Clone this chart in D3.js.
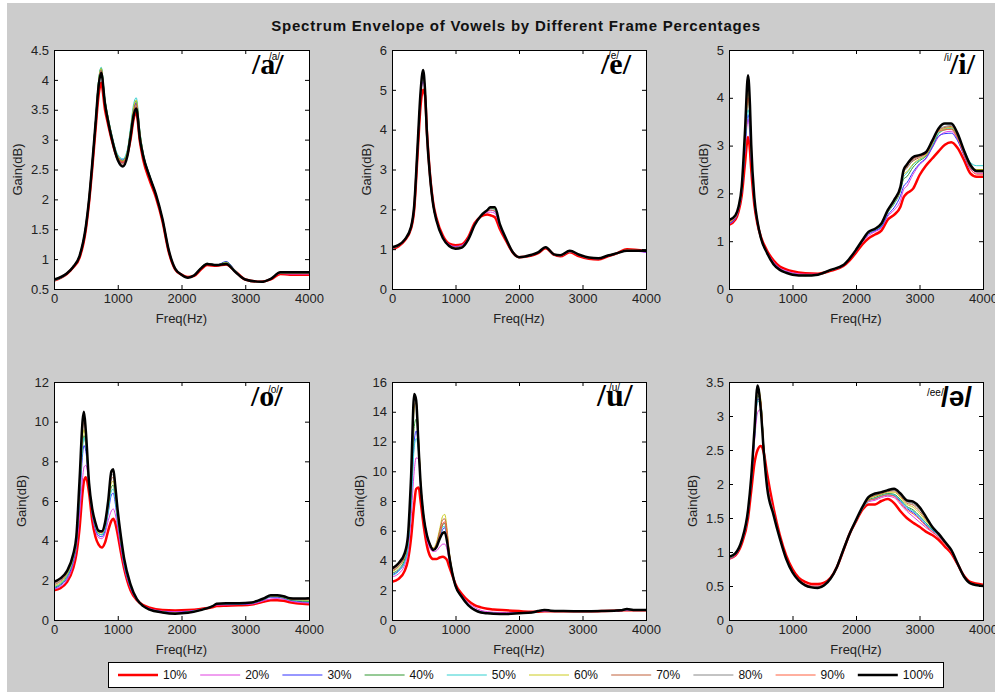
<!DOCTYPE html>
<html>
<head>
<meta charset="utf-8">
<script src="https://cdn.jsdelivr.net/npm/d3@7"></script>
<style>
  body { margin: 0; background: #fff; }
  text { font-family: "Liberation Sans", Arial, Helvetica, sans-serif; }
</style>
</head>
<body>
<div id="chart"></div>
<script>
// legend / series
const pctLabels = ["10%", "20%", "30%", "40%", "50%", "60%", "70%", "80%", "90%", "100%"];
const pctColors = ["#ff0000", "#e040e0", "#3030ff", "#2e962e", "#30d0d0", "#cccc20", "#c0603a", "#888888", "#ff6040", "#000000"];
const xTicks = [0, 1000, 2000, 3000, 4000];

// /a/
const freqA = [0,200,300,400,500,550,600,650,700,740,800,850,900,1000,1080,1150,1200,1250,1290,1350,1400,1500,1600,1700,1800,1900,2000,2100,2200,2300,2400,2550,2700,2850,3000,3250,3400,3550,3700,4000];
const a10 = [0.64,0.75,0.86,1.02,1.5,1.95,2.52,3.15,3.75,3.95,3.5,3.25,3.02,2.68,2.62,2.75,3.0,3.35,3.45,2.95,2.66,2.32,2.03,1.64,1.12,0.83,0.74,0.7,0.72,0.82,0.9,0.89,0.91,0.79,0.66,0.62,0.66,0.75,0.74,0.74];
const a20 = [0.65,0.75,0.87,1.04,1.54,2.0,2.6,3.25,3.95,4.15,3.62,3.32,3.07,2.7,2.62,2.76,3.1,3.48,3.6,3.05,2.74,2.38,2.07,1.67,1.14,0.84,0.74,0.69,0.73,0.84,0.92,0.9,0.95,0.8,0.66,0.62,0.67,0.76,0.75,0.75];
const a30 = [0.66,0.76,0.88,1.06,1.57,2.03,2.63,3.3,3.98,4.18,3.65,3.35,3.1,2.73,2.66,2.8,3.15,3.52,3.62,3.08,2.76,2.4,2.08,1.68,1.15,0.84,0.74,0.69,0.73,0.85,0.93,0.9,0.96,0.8,0.66,0.62,0.67,0.77,0.77,0.77];
const a40 = [0.65,0.76,0.88,1.06,1.57,2.03,2.64,3.3,4.0,4.2,3.66,3.36,3.1,2.72,2.65,2.8,3.16,3.55,3.65,3.1,2.77,2.4,2.08,1.68,1.15,0.84,0.74,0.69,0.73,0.85,0.93,0.9,0.95,0.8,0.66,0.62,0.67,0.77,0.77,0.77];
const a50 = [0.64,0.75,0.87,1.06,1.58,2.04,2.65,3.32,4.0,4.21,3.67,3.37,3.12,2.75,2.68,2.83,3.2,3.6,3.7,3.12,2.78,2.41,2.08,1.68,1.15,0.84,0.74,0.69,0.73,0.85,0.93,0.9,0.94,0.8,0.66,0.62,0.67,0.77,0.77,0.77];
const a60 = [0.65,0.76,0.88,1.06,1.57,2.03,2.64,3.3,3.99,4.19,3.66,3.36,3.1,2.72,2.64,2.8,3.15,3.55,3.66,3.1,2.76,2.4,2.08,1.68,1.15,0.84,0.74,0.69,0.73,0.85,0.93,0.9,0.94,0.79,0.66,0.62,0.67,0.77,0.77,0.77];
const a70 = [0.66,0.76,0.87,1.05,1.56,2.02,2.62,3.28,3.95,4.16,3.63,3.33,3.08,2.7,2.61,2.77,3.1,3.48,3.6,3.06,2.75,2.39,2.08,1.68,1.15,0.84,0.74,0.69,0.73,0.84,0.92,0.9,0.93,0.79,0.66,0.62,0.67,0.77,0.77,0.77];
const a80 = [0.66,0.76,0.87,1.05,1.56,2.01,2.61,3.27,3.93,4.15,3.62,3.32,3.07,2.68,2.59,2.75,3.08,3.46,3.57,3.04,2.74,2.39,2.08,1.68,1.15,0.84,0.74,0.69,0.73,0.84,0.92,0.9,0.93,0.79,0.66,0.62,0.67,0.78,0.78,0.78];
const a90 = [0.66,0.76,0.87,1.05,1.55,2.0,2.6,3.26,3.92,4.14,3.61,3.31,3.06,2.67,2.57,2.74,3.07,3.44,3.55,3.02,2.73,2.38,2.08,1.68,1.15,0.84,0.74,0.69,0.73,0.84,0.92,0.9,0.92,0.78,0.66,0.62,0.67,0.78,0.78,0.78];
const a100 = [0.66,0.76,0.87,1.05,1.55,2.0,2.6,3.25,3.9,4.12,3.6,3.3,3.05,2.66,2.55,2.72,3.05,3.41,3.52,3.0,2.72,2.38,2.08,1.68,1.15,0.84,0.74,0.69,0.73,0.84,0.92,0.9,0.92,0.78,0.66,0.62,0.67,0.78,0.78,0.78];
const ticksA = [0.5, 1, 1.5, 2, 2.5, 3, 3.5, 4, 4.5];

// /e/
const freqE = [0,100,200,300,350,400,450,490,520,550,600,650,700,800,900,1000,1100,1200,1300,1400,1500,1550,1620,1700,1800,1900,2000,2200,2300,2420,2550,2650,2800,2950,3100,3250,3400,3550,3700,4000];
const e10 = [1.0,1.07,1.22,1.52,2.0,3.3,4.6,5.0,4.85,3.95,2.85,2.15,1.78,1.34,1.14,1.1,1.12,1.3,1.65,1.82,1.87,1.85,1.8,1.5,1.2,0.92,0.8,0.84,0.9,1.02,0.86,0.82,0.92,0.82,0.76,0.74,0.82,0.9,1.0,0.95];
const e20 = [1.02,1.08,1.23,1.54,2.05,3.4,4.8,5.2,4.95,3.92,2.82,2.12,1.76,1.32,1.12,1.07,1.1,1.28,1.63,1.84,1.92,1.93,1.9,1.55,1.22,0.92,0.8,0.85,0.91,1.03,0.86,0.83,0.93,0.84,0.77,0.76,0.83,0.9,0.96,0.92];
const e30 = [1.03,1.09,1.24,1.55,2.07,3.45,4.85,5.3,5.0,3.92,2.8,2.1,1.75,1.3,1.1,1.05,1.08,1.27,1.62,1.85,1.95,1.98,1.95,1.58,1.23,0.93,0.8,0.85,0.91,1.04,0.87,0.84,0.94,0.85,0.78,0.76,0.83,0.9,0.96,0.93];
const e40 = [1.03,1.09,1.24,1.55,2.08,3.48,4.9,5.4,5.0,3.91,2.8,2.09,1.74,1.3,1.1,1.04,1.07,1.26,1.61,1.85,1.97,2.02,2.0,1.6,1.24,0.93,0.8,0.85,0.92,1.04,0.87,0.84,0.95,0.85,0.78,0.77,0.84,0.9,0.96,0.94];
const e50 = [1.02,1.08,1.23,1.55,2.08,3.48,4.9,5.42,5.0,3.9,2.8,2.08,1.74,1.3,1.09,1.03,1.06,1.25,1.6,1.84,1.97,2.03,2.01,1.6,1.24,0.93,0.79,0.85,0.92,1.04,0.87,0.84,0.95,0.86,0.78,0.77,0.84,0.9,0.96,0.94];
const e60 = [1.03,1.09,1.24,1.56,2.09,3.5,4.92,5.45,5.0,3.9,2.8,2.08,1.73,1.29,1.09,1.02,1.05,1.25,1.6,1.84,1.98,2.04,2.03,1.61,1.25,0.93,0.8,0.86,0.92,1.05,0.87,0.85,0.96,0.86,0.79,0.77,0.84,0.9,0.96,0.95];
const e70 = [1.04,1.1,1.24,1.56,2.09,3.5,4.93,5.45,5.0,3.9,2.8,2.07,1.73,1.29,1.08,1.02,1.05,1.24,1.6,1.84,1.98,2.04,2.04,1.61,1.25,0.93,0.8,0.86,0.92,1.05,0.87,0.85,0.96,0.86,0.79,0.77,0.84,0.9,0.97,0.95];
const e80 = [1.04,1.1,1.24,1.56,2.1,3.5,4.94,5.48,5.0,3.9,2.8,2.06,1.72,1.28,1.08,1.01,1.04,1.24,1.6,1.84,1.98,2.05,2.05,1.62,1.25,0.93,0.8,0.86,0.92,1.05,0.87,0.85,0.96,0.86,0.79,0.77,0.84,0.9,0.97,0.96];
const e90 = [1.03,1.09,1.23,1.55,2.06,3.45,4.9,5.4,5.0,3.92,2.82,2.1,1.75,1.3,1.1,1.04,1.07,1.26,1.62,1.84,1.95,1.98,1.96,1.58,1.23,0.92,0.8,0.85,0.91,1.03,0.86,0.83,0.93,0.84,0.77,0.76,0.83,0.9,0.99,0.95];
const e100 = [1.05,1.1,1.24,1.56,2.1,3.5,4.95,5.5,5.0,3.9,2.8,2.1,1.72,1.28,1.08,1.01,1.04,1.24,1.6,1.84,1.98,2.05,2.05,1.62,1.25,0.93,0.8,0.86,0.92,1.05,0.87,0.85,0.96,0.86,0.79,0.77,0.84,0.9,0.96,0.96];
const ticksE = [0, 1, 2, 3, 4, 5, 6];

// /i/
const freqI = [0,100,150,200,250,300,330,350,400,450,500,600,700,800,900,1000,1200,1400,1600,1800,1900,2000,2100,2200,2300,2400,2500,2600,2700,2750,2800,2900,3000,3100,3200,3300,3400,3500,3600,3700,3800,3900,4000];
const i10 = [1.34,1.45,1.62,1.95,2.6,3.18,2.9,2.5,1.75,1.35,1.1,0.8,0.6,0.47,0.41,0.37,0.33,0.32,0.38,0.48,0.6,0.76,0.93,1.06,1.14,1.22,1.45,1.55,1.72,1.92,2.0,2.1,2.38,2.58,2.73,2.88,3.02,3.07,2.95,2.7,2.42,2.35,2.35];
const i20 = [1.36,1.47,1.65,2.0,2.85,3.55,3.2,2.7,1.8,1.37,1.08,0.78,0.57,0.44,0.38,0.34,0.31,0.31,0.39,0.49,0.62,0.79,0.98,1.12,1.2,1.28,1.52,1.65,1.85,2.08,2.15,2.4,2.6,2.72,2.95,3.18,3.28,3.3,3.12,2.8,2.5,2.42,2.42];
const i30 = [1.37,1.48,1.66,2.02,2.9,3.65,3.3,2.75,1.82,1.37,1.07,0.76,0.55,0.42,0.36,0.32,0.29,0.3,0.39,0.49,0.63,0.8,1.0,1.15,1.22,1.3,1.55,1.7,1.95,2.15,2.22,2.45,2.62,2.74,2.96,3.2,3.25,3.26,3.1,2.8,2.52,2.47,2.47];
const i40 = [1.39,1.5,1.68,2.06,3.0,4.0,3.55,2.85,1.85,1.38,1.07,0.76,0.54,0.41,0.35,0.31,0.29,0.3,0.39,0.5,0.63,0.81,1.0,1.17,1.24,1.33,1.6,1.78,2.05,2.3,2.35,2.55,2.68,2.78,3.0,3.25,3.33,3.35,3.16,2.85,2.55,2.48,2.48];
const i50 = [1.4,1.5,1.68,2.05,2.95,3.75,3.4,2.8,1.84,1.38,1.07,0.76,0.54,0.41,0.35,0.31,0.29,0.3,0.39,0.5,0.63,0.81,1.0,1.17,1.24,1.33,1.6,1.8,2.08,2.35,2.42,2.6,2.7,2.8,3.02,3.27,3.35,3.37,3.2,2.92,2.65,2.58,2.58];
const i60 = [1.41,1.51,1.69,2.08,3.1,4.1,3.65,2.9,1.87,1.39,1.07,0.75,0.53,0.41,0.35,0.31,0.28,0.3,0.39,0.5,0.64,0.81,1.01,1.18,1.25,1.35,1.62,1.82,2.1,2.4,2.45,2.62,2.72,2.8,3.04,3.3,3.36,3.38,3.2,2.88,2.58,2.5,2.5];
const i70 = [1.42,1.52,1.7,2.1,3.15,4.2,3.7,2.95,1.88,1.39,1.07,0.75,0.53,0.4,0.34,0.3,0.28,0.3,0.4,0.5,0.64,0.82,1.01,1.19,1.25,1.36,1.63,1.84,2.12,2.45,2.55,2.68,2.75,2.83,3.06,3.32,3.38,3.4,3.2,2.88,2.58,2.45,2.45];
const i80 = [1.43,1.53,1.71,2.12,3.2,4.3,3.78,3.0,1.89,1.4,1.08,0.75,0.52,0.4,0.34,0.3,0.28,0.3,0.4,0.5,0.64,0.82,1.02,1.2,1.26,1.36,1.64,1.85,2.13,2.45,2.52,2.7,2.77,2.84,3.08,3.34,3.4,3.42,3.22,2.88,2.58,2.46,2.46];
const i90 = [1.4,1.5,1.68,2.07,3.05,4.0,3.6,2.88,1.86,1.38,1.07,0.76,0.54,0.41,0.35,0.31,0.29,0.3,0.39,0.5,0.63,0.81,1.01,1.18,1.25,1.35,1.62,1.83,2.1,2.45,2.57,2.72,2.78,2.82,3.05,3.3,3.33,3.34,3.15,2.82,2.52,2.4,2.4];
const i100 = [1.44,1.54,1.72,2.14,3.25,4.47,3.85,3.02,1.9,1.4,1.08,0.75,0.52,0.4,0.34,0.3,0.28,0.3,0.4,0.5,0.64,0.82,1.02,1.2,1.26,1.37,1.65,1.86,2.14,2.49,2.6,2.76,2.8,2.86,3.1,3.36,3.46,3.46,3.25,2.9,2.6,2.47,2.47];
const ticksI = [0, 1, 2, 3, 4, 5];

// /o/
const freqO = [0,100,200,300,350,400,450,470,500,550,600,650,700,750,800,850,900,930,960,1000,1050,1100,1200,1300,1400,1500,1700,1900,2100,2300,2500,2550,2700,2900,3100,3200,3300,3400,3500,3600,3700,3800,3900,4000];
const o10 = [1.5,1.6,1.9,2.6,3.3,4.6,6.5,7.0,7.2,6.4,5.0,4.2,3.8,3.65,3.9,4.5,5.0,5.1,4.9,4.3,3.4,2.6,1.5,1.0,0.75,0.62,0.5,0.48,0.5,0.56,0.66,0.7,0.72,0.74,0.78,0.85,0.93,1.0,1.0,0.97,0.9,0.85,0.82,0.8];
const o20 = [1.55,1.68,2.0,2.8,3.6,5.2,7.2,7.7,7.8,6.8,5.3,4.5,4.15,4.1,4.35,5.0,5.5,5.6,5.35,4.6,3.6,2.7,1.6,1.0,0.72,0.58,0.45,0.42,0.45,0.53,0.7,0.75,0.76,0.78,0.8,0.88,0.98,1.06,1.08,1.05,0.96,0.9,0.87,0.85];
const o30 = [1.6,1.75,2.1,2.95,3.8,5.8,8.4,8.8,8.5,6.7,5.35,4.6,4.25,4.2,4.5,5.4,6.3,6.4,5.9,4.9,3.8,2.8,1.65,1.0,0.7,0.55,0.42,0.38,0.42,0.52,0.72,0.78,0.8,0.8,0.83,0.92,1.03,1.15,1.15,1.1,1.0,0.95,0.92,0.9];
const o40 = [1.65,1.8,2.2,3.05,3.9,6.2,8.9,9.3,8.8,6.8,5.45,4.7,4.35,4.3,4.65,5.6,6.7,6.8,6.2,5.1,3.9,2.9,1.7,1.02,0.7,0.54,0.41,0.36,0.4,0.52,0.72,0.8,0.82,0.82,0.85,0.94,1.05,1.18,1.18,1.12,1.02,0.98,0.95,0.93];
const o50 = [1.68,1.83,2.22,3.08,3.95,6.2,8.8,9.2,8.8,6.8,5.45,4.7,4.35,4.3,4.6,5.5,6.5,6.6,6.1,5.0,3.9,2.9,1.7,1.02,0.7,0.54,0.41,0.36,0.4,0.52,0.72,0.8,0.82,0.82,0.85,0.95,1.06,1.2,1.2,1.14,1.04,1.0,0.98,0.96];
const o60 = [1.72,1.88,2.28,3.15,4.0,6.5,9.2,9.6,9.0,6.85,5.5,4.78,4.4,4.4,4.75,5.75,6.9,7.0,6.4,5.2,4.0,3.0,1.75,1.03,0.7,0.53,0.4,0.35,0.39,0.51,0.72,0.81,0.83,0.83,0.86,0.96,1.07,1.21,1.21,1.15,1.05,1.02,1.0,1.0];
const o70 = [1.78,1.95,2.34,3.2,4.08,6.7,9.6,10.0,9.2,6.88,5.55,4.82,4.45,4.4,4.8,5.85,7.1,7.2,6.55,5.3,4.08,3.05,1.77,1.04,0.7,0.53,0.39,0.34,0.38,0.51,0.72,0.81,0.83,0.83,0.87,0.97,1.08,1.22,1.22,1.16,1.06,1.04,1.03,1.03];
const o80 = [1.83,2.0,2.38,3.25,4.12,6.85,9.8,10.2,9.3,6.9,5.58,4.86,4.48,4.45,4.85,5.9,7.25,7.35,6.65,5.4,4.12,3.08,1.78,1.05,0.7,0.52,0.39,0.33,0.37,0.5,0.72,0.82,0.84,0.84,0.87,0.97,1.09,1.23,1.23,1.18,1.08,1.06,1.05,1.06];
const o90 = [1.88,2.05,2.42,3.28,4.16,6.9,9.9,10.3,9.4,6.9,5.6,4.88,4.48,4.42,4.88,5.95,7.4,7.5,6.72,5.45,4.15,3.1,1.79,1.05,0.7,0.52,0.38,0.33,0.37,0.5,0.72,0.82,0.84,0.84,0.88,0.98,1.1,1.24,1.24,1.19,1.09,1.07,1.07,1.08];
const o100 = [1.93,2.1,2.45,3.3,4.2,7.0,10.1,10.5,9.5,6.9,5.6,4.9,4.5,4.47,4.9,6.0,7.5,7.6,6.8,5.5,4.2,3.1,1.8,1.05,0.7,0.52,0.38,0.32,0.36,0.5,0.72,0.82,0.84,0.84,0.88,0.98,1.1,1.25,1.25,1.2,1.1,1.08,1.08,1.1];
const ticksO = [0, 2, 4, 6, 8, 10, 12];

// /u/
const freqU = [0,100,200,250,300,350,380,420,450,500,550,600,650,700,750,800,830,870,900,950,1000,1100,1200,1300,1400,1500,1600,1800,2000,2200,2300,2400,2500,2700,3000,3300,3500,3600,3700,3800,4000];
const u10 = [2.57,2.75,3.3,4.0,5.5,7.8,8.8,8.9,8.0,6.3,5.0,4.3,4.1,4.1,4.2,4.25,4.2,4.0,3.6,3.0,2.4,1.75,1.3,1.0,0.85,0.75,0.7,0.65,0.6,0.55,0.56,0.58,0.58,0.58,0.58,0.6,0.62,0.64,0.66,0.66,0.65];
const u20 = [2.9,3.1,3.7,4.5,6.8,10.0,10.9,10.8,9.2,6.8,5.4,4.8,4.6,4.65,4.9,5.1,5.1,4.7,4.0,3.1,2.35,1.65,1.15,0.85,0.65,0.56,0.52,0.5,0.5,0.52,0.57,0.6,0.6,0.58,0.57,0.58,0.6,0.62,0.66,0.64,0.64];
const u30 = [3.05,3.3,3.95,4.9,7.8,12.0,12.7,11.5,9.3,6.9,5.6,4.95,4.7,4.9,5.5,6.1,6.2,5.4,4.4,3.2,2.3,1.58,1.05,0.72,0.55,0.48,0.45,0.43,0.46,0.5,0.58,0.63,0.62,0.59,0.57,0.59,0.62,0.64,0.7,0.66,0.66];
const u40 = [3.15,3.4,4.1,5.1,8.4,13.0,13.5,11.8,9.3,6.9,5.65,5.0,4.75,5.0,5.7,6.4,6.5,5.6,4.5,3.2,2.3,1.56,1.03,0.7,0.52,0.46,0.43,0.42,0.46,0.5,0.59,0.65,0.62,0.59,0.57,0.59,0.62,0.64,0.71,0.66,0.66];
const u50 = [3.0,3.25,3.9,4.85,7.6,11.6,12.2,11.2,9.2,6.9,5.6,5.0,4.75,4.95,5.6,6.25,6.3,5.5,4.45,3.2,2.3,1.57,1.04,0.71,0.53,0.47,0.44,0.42,0.46,0.5,0.59,0.64,0.62,0.59,0.57,0.59,0.62,0.64,0.7,0.66,0.66];
const u60 = [3.25,3.55,4.25,5.3,9.0,14.2,14.7,12.2,9.5,7.0,5.75,5.1,4.85,5.2,6.1,7.0,7.1,6.0,4.7,3.3,2.32,1.55,1.02,0.69,0.51,0.45,0.43,0.41,0.45,0.5,0.6,0.66,0.63,0.6,0.58,0.6,0.63,0.65,0.72,0.67,0.67];
const u70 = [3.3,3.6,4.3,5.35,9.1,14.4,14.6,12.0,9.4,7.0,5.75,5.1,4.8,5.1,5.95,6.75,6.8,5.85,4.6,3.25,2.3,1.55,1.01,0.69,0.51,0.45,0.42,0.41,0.45,0.5,0.6,0.66,0.63,0.6,0.58,0.6,0.63,0.65,0.72,0.67,0.67];
const u80 = [3.35,3.68,4.38,5.45,9.3,14.9,14.7,11.8,9.3,6.95,5.72,5.08,4.75,5.0,5.75,6.45,6.5,5.6,4.5,3.2,2.3,1.55,1.0,0.68,0.5,0.45,0.42,0.4,0.45,0.5,0.6,0.67,0.63,0.6,0.58,0.6,0.63,0.65,0.73,0.68,0.67];
const u90 = [3.4,3.72,4.42,5.5,9.4,15.0,14.8,11.7,9.25,6.92,5.7,5.06,4.72,4.95,5.65,6.5,6.6,5.65,4.55,3.2,2.3,1.55,1.0,0.68,0.5,0.45,0.42,0.4,0.45,0.5,0.6,0.67,0.63,0.6,0.58,0.6,0.63,0.65,0.73,0.68,0.67];
const u100 = [3.47,3.8,4.5,5.6,9.6,15.2,14.8,11.5,9.2,6.9,5.7,5.05,4.7,4.9,5.45,5.85,5.9,5.2,4.3,3.15,2.3,1.55,1.0,0.68,0.5,0.45,0.42,0.4,0.45,0.5,0.6,0.67,0.63,0.6,0.58,0.6,0.63,0.65,0.74,0.68,0.67];
const ticksU = [0, 2, 4, 6, 8, 10, 12, 14, 16];

// /ə/
const freqS = [0,100,200,300,350,400,450,500,550,600,700,800,900,1000,1100,1200,1300,1400,1500,1600,1700,1800,1900,2000,2100,2200,2300,2400,2500,2600,2700,2800,2900,3000,3100,3200,3300,3400,3500,3600,3700,3800,4000];
const s10 = [0.9,0.95,1.12,1.5,1.9,2.3,2.5,2.56,2.45,2.15,1.65,1.25,0.95,0.75,0.62,0.56,0.53,0.53,0.55,0.62,0.78,1.02,1.27,1.45,1.62,1.7,1.7,1.75,1.78,1.72,1.6,1.5,1.43,1.37,1.3,1.25,1.18,1.08,0.98,0.82,0.65,0.56,0.52];
const s20 = [0.9,0.95,1.14,1.55,2.0,2.6,3.05,3.1,2.5,2.05,1.6,1.22,0.92,0.72,0.6,0.53,0.5,0.5,0.53,0.62,0.78,1.02,1.27,1.46,1.64,1.74,1.76,1.8,1.82,1.8,1.7,1.6,1.52,1.44,1.36,1.29,1.22,1.12,1.0,0.82,0.64,0.54,0.5];
const s30 = [0.91,0.96,1.15,1.57,2.03,2.65,3.25,3.2,2.5,2.02,1.58,1.21,0.91,0.71,0.59,0.52,0.49,0.49,0.52,0.61,0.78,1.03,1.27,1.47,1.65,1.76,1.78,1.82,1.84,1.83,1.74,1.64,1.58,1.5,1.4,1.32,1.24,1.13,1.01,0.82,0.64,0.54,0.5];
const s40 = [0.91,0.96,1.15,1.58,2.05,2.7,3.3,3.2,2.5,2.02,1.58,1.21,0.91,0.71,0.59,0.52,0.49,0.48,0.52,0.61,0.78,1.03,1.27,1.47,1.65,1.77,1.8,1.84,1.86,1.85,1.77,1.67,1.62,1.53,1.43,1.33,1.25,1.14,1.02,0.83,0.64,0.54,0.5];
const s50 = [0.92,0.97,1.16,1.58,2.04,2.68,3.22,3.18,2.5,2.02,1.58,1.21,0.91,0.71,0.59,0.52,0.49,0.48,0.52,0.61,0.78,1.03,1.26,1.45,1.63,1.75,1.79,1.83,1.85,1.84,1.76,1.66,1.6,1.52,1.42,1.33,1.25,1.14,1.02,0.83,0.64,0.54,0.5];
const s60 = [0.92,0.97,1.16,1.6,2.07,2.75,3.42,3.25,2.52,2.02,1.58,1.2,0.9,0.7,0.58,0.51,0.48,0.48,0.51,0.61,0.78,1.03,1.27,1.47,1.66,1.78,1.82,1.85,1.88,1.88,1.8,1.7,1.66,1.57,1.46,1.35,1.26,1.15,1.03,0.83,0.64,0.54,0.5];
const s70 = [0.93,0.98,1.17,1.6,2.08,2.76,3.4,3.2,2.5,2.0,1.57,1.2,0.9,0.7,0.58,0.51,0.48,0.47,0.51,0.61,0.78,1.03,1.27,1.47,1.66,1.79,1.83,1.86,1.89,1.9,1.82,1.72,1.69,1.6,1.48,1.36,1.26,1.15,1.03,0.83,0.64,0.54,0.5];
const s80 = [0.93,0.98,1.17,1.61,2.09,2.78,3.43,3.15,2.48,1.98,1.56,1.2,0.9,0.7,0.58,0.51,0.48,0.47,0.51,0.61,0.78,1.03,1.27,1.47,1.66,1.8,1.84,1.87,1.9,1.91,1.84,1.74,1.71,1.63,1.5,1.37,1.27,1.15,1.03,0.83,0.64,0.54,0.5];
const s90 = [0.92,0.97,1.16,1.6,2.07,2.74,3.38,3.2,2.5,2.02,1.58,1.22,0.92,0.72,0.6,0.53,0.5,0.5,0.53,0.62,0.78,1.02,1.27,1.46,1.64,1.76,1.78,1.82,1.84,1.82,1.72,1.62,1.56,1.48,1.38,1.3,1.22,1.12,1.0,0.82,0.64,0.55,0.51];
const s100 = [0.93,0.98,1.17,1.62,2.1,2.79,3.45,3.1,2.45,1.95,1.55,1.2,0.9,0.7,0.58,0.51,0.48,0.47,0.51,0.61,0.78,1.03,1.27,1.47,1.66,1.81,1.86,1.88,1.91,1.93,1.86,1.76,1.74,1.66,1.52,1.37,1.27,1.15,1.03,0.83,0.64,0.54,0.5];
const ticksS = [0, 0.5, 1, 1.5, 2, 2.5, 3, 3.5];

var W = 995, H = 692;

var panels = [
  { freq: freqA, series: [a10,a20,a30,a40,a50,a60,a70,a80,a90,a100], yTicks: ticksA,
    box: [54, 50, 309, 289], big: "/a/", bigX: 252, bigY: 74, small: "/a/", smallX: 269, smallY: 60 },
  { freq: freqE, series: [e10,e20,e30,e40,e50,e60,e70,e80,e90,e100], yTicks: ticksE,
    box: [392, 50, 646, 289], big: "/e/", bigX: 601, bigY: 74, small: "/e/", smallX: 608, smallY: 59 },
  { freq: freqI, series: [i10,i20,i30,i40,i50,i60,i70,i80,i90,i100], yTicks: ticksI,
    box: [729, 50, 983, 289], big: "/i/", bigX: 950, bigY: 74, small: "/i/", smallX: 944, smallY: 61 },
  { freq: freqO, series: [o10,o20,o30,o40,o50,o60,o70,o80,o90,o100], yTicks: ticksO,
    box: [54, 382, 309, 620], big: "/o/", bigX: 251, bigY: 406, small: "/o/", smallX: 268, smallY: 393 },
  { freq: freqU, series: [u10,u20,u30,u40,u50,u60,u70,u80,u90,u100], yTicks: ticksU,
    box: [392, 382, 646, 620], big: "/u/", bigX: 597, bigY: 406, small: "/u/", smallX: 609, smallY: 391, bigSize: 32 },
  { freq: freqS, series: [s10,s20,s30,s40,s50,s60,s70,s80,s90,s100], yTicks: ticksS,
    box: [729, 382, 983, 620], big: "/ə/", bigX: 941, bigY: 406, small: "/ee/", smallX: 927, smallY: 396, sans: true }
];

var svg = d3.select("#chart").append("svg")
    .attr("width", W)
    .attr("height", H);

// figure background
svg.append("rect")
    .attr("x", 7).attr("y", 3)
    .attr("width", W - 7).attr("height", H - 3)
    .attr("fill", "#cccccc");

svg.append("text")
    .attr("x", 516).attr("y", 31)
    .attr("text-anchor", "middle")
    .style("font-size", "15px").style("font-weight", "bold")
    .style("letter-spacing", "0.8px")
    .attr("fill", "#111")
    .text("Spectrum Envelope of Vowels by Different Frame Percentages");

var lineWidth = function(i) { return (i === 0 || i === 9) ? 2.5 : 1; };

panels.forEach(function(p, k) {
  var x0 = p.box[0], y0 = p.box[1], x1 = p.box[2], y1 = p.box[3];
  var x = d3.scaleLinear().domain([0, 4000]).range([x0, x1]);
  var y = d3.scaleLinear().domain(d3.extent(p.yTicks)).range([y1, y0]);

  var g = svg.append("g");
  g.append("rect")
      .attr("x", x0).attr("y", y0)
      .attr("width", x1 - x0).attr("height", y1 - y0)
      .attr("fill", "#fff");

  var clipId = "clip" + k;
  g.append("clipPath").attr("id", clipId)
    .append("rect")
      .attr("x", x0).attr("y", y0)
      .attr("width", x1 - x0).attr("height", y1 - y0);

  var line = d3.line()
      .x(function(d) { return x(d[0]); })
      .y(function(d) { return y(d[1]); })
      .curve(d3.curveMonotoneX);

  var lines = g.append("g").attr("clip-path", "url(#" + clipId + ")");
  p.series.forEach(function(s, i) {
    lines.append("path")
        .datum(p.freq.map(function(f, j) { return [f, s[j]]; }))
        .attr("fill", "none")
        .attr("stroke", pctColors[i])
        .attr("stroke-width", lineWidth(i))
        .attr("stroke-linejoin", "round")
        .attr("d", line);
  });

  // axes, ticks pointing inward like matlab
  var fmt = function(d) { return String(d); };
  g.append("g").attr("transform", "translate(0," + y1 + ")")
      .call(d3.axisBottom(x).tickValues(xTicks).tickFormat(fmt).tickSize(-4).tickPadding(5));
  var ay = g.append("g").attr("transform", "translate(" + x0 + ",0)")
      .call(d3.axisLeft(y).tickValues(p.yTicks).tickFormat(fmt).tickSize(-4).tickPadding(5));
  g.append("g").attr("transform", "translate(0," + y0 + ")")
      .call(d3.axisTop(x).tickValues(xTicks).tickFormat("").tickSize(-4));
  g.append("g").attr("transform", "translate(" + x1 + ",0)")
      .call(d3.axisRight(y).tickValues(p.yTicks).tickFormat("").tickSize(-4));

  g.selectAll(".domain").remove();
  g.selectAll(".tick line").attr("stroke", "#000");
  g.selectAll(".tick text")
      .style("font-size", "13px")
      .attr("fill", "#222");

  g.append("rect")
      .attr("x", x0 + 0.5).attr("y", y0 + 0.5)
      .attr("width", x1 - x0).attr("height", y1 - y0)
      .attr("fill", "none").attr("stroke", "#000").attr("stroke-width", 1);

  // axis labels
  var tickW = d3.max(ay.selectAll(".tick text").nodes(), function(n) { return n.getBBox().width; });
  var labX = x0 - 5 - tickW - 13;
  g.append("text")
      .attr("transform", "translate(" + labX + "," + ((y0 + y1) / 2) + ") rotate(-90)")
      .attr("text-anchor", "middle")
      .attr("dy", "0.35em")
      .style("font-size", "13px")
      .attr("fill", "#222")
      .text("Gain(dB)");
  g.append("text")
      .attr("x", (x0 + x1) / 2).attr("y", y1 + 29)
      .attr("dy", "0.35em")
      .attr("text-anchor", "middle")
      .style("font-size", "13px")
      .attr("fill", "#222")
      .text("Freq(Hz)");

  // vowel labels
  g.append("text")
      .attr("x", p.bigX).attr("y", p.bigY)
      .style("font-family", p.sans ? "'Liberation Sans', 'DejaVu Sans', Arial, sans-serif" : "'Liberation Serif', 'Times New Roman', serif")
      .style("font-size", (p.bigSize || (p.sans ? 28 : 30)) + "px")
      .style("font-weight", "bold")
      .attr("fill", "#000")
      .text(p.big);
  g.append("text")
      .attr("x", p.smallX).attr("y", p.smallY)
      .style("font-size", "10px")
      .attr("fill", "#000")
      .text(p.small);
});

// legend
var legend = svg.append("g");
legend.append("rect")
    .attr("x", 108.5).attr("y", 662.5)
    .attr("width", 835).attr("height", 25)
    .attr("fill", "#fff").attr("stroke", "#000");

var step = 82.2;
pctLabels.forEach(function(lab, i) {
  var lx = 118 + i * step;
  legend.append("line")
      .attr("x1", lx).attr("x2", lx + 40)
      .attr("y1", 675).attr("y2", 675)
      .attr("stroke", pctColors[i])
      .attr("stroke-width", lineWidth(i));
  legend.append("text")
      .attr("x", lx + 45).attr("y", 675)
      .attr("dy", "0.35em")
      .style("font-size", "12px")
      .attr("fill", "#111")
      .text(lab);
});
</script>
</body>
</html>
